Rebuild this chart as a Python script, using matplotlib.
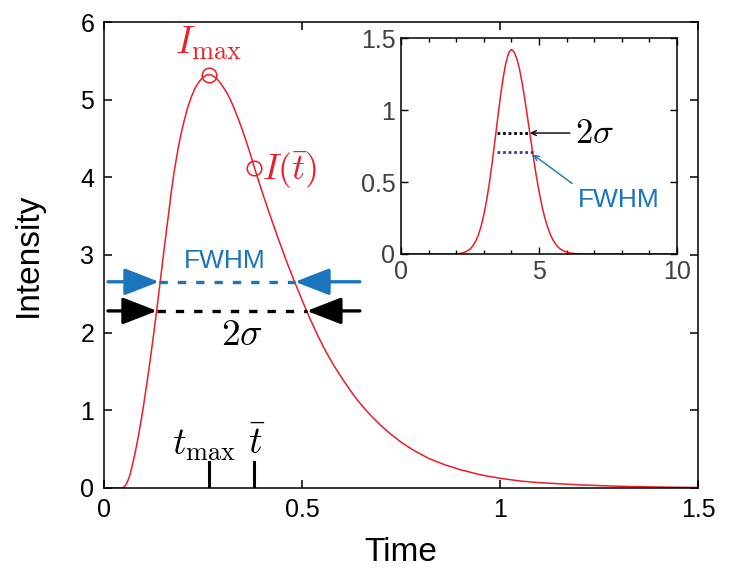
import numpy as np
import matplotlib
matplotlib.use('Agg')
import matplotlib.pyplot as plt

plt.rcParams['font.family'] = ['Liberation Sans', 'DejaVu Sans']
plt.rcParams['mathtext.fontset'] = 'cm'

## main pulse ##
t_main = [0.0, 0.045, 0.05, 0.055, 0.06, 0.065, 0.07, 0.075, 0.08, 0.085, 0.09,
          0.095, 0.10, 0.105, 0.11, 0.115, 0.12, 0.125, 0.13, 0.135, 0.14,
          0.145, 0.15, 0.155, 0.16, 0.165, 0.17, 0.175, 0.18, 0.185, 0.19,
          0.195, 0.20, 0.21, 0.22, 0.23, 0.24, 0.25, 0.26, 0.27, 0.28, 0.29,
          0.30, 0.31, 0.32, 0.33, 0.34, 0.35, 0.36, 0.37, 0.38, 0.39, 0.40,
          0.42, 0.44, 0.46, 0.48, 0.50, 0.52, 0.54, 0.56, 0.58, 0.60, 0.62,
          0.64, 0.66, 0.68, 0.70, 0.72, 0.75, 0.78, 0.82, 0.86, 0.90, 0.95,
          1.00, 1.05, 1.10, 1.20, 1.30, 1.40, 1.50]
I_main = [0.0, 0.0, 0.01, 0.04, 0.09, 0.16, 0.26, 0.37, 0.49, 0.62, 0.76,
          0.91, 1.07, 1.24, 1.41, 1.59, 1.78, 1.97, 2.17, 2.37, 2.58,
          2.79, 3.00, 3.21, 3.41, 3.61, 3.82, 4.00, 4.16, 4.31, 4.45,
          4.57, 4.68, 4.88, 5.03, 5.15, 5.23, 5.29, 5.32, 5.32, 5.29, 5.24,
          5.17, 5.09, 4.99, 4.87, 4.74, 4.60, 4.45, 4.29, 4.12, 3.96, 3.80,
          3.50, 3.21, 2.93, 2.67, 2.42, 2.18, 1.96, 1.76, 1.58, 1.42, 1.27,
          1.13, 1.01, 0.90, 0.80, 0.71, 0.59, 0.49, 0.38, 0.30, 0.235, 0.17,
          0.125, 0.09, 0.068, 0.04, 0.022, 0.012, 0.006]

t_max, I_max = 0.265, 5.32
t_bar, I_bar = 0.378, 4.12
fwhm_lvl, fwhm_l, fwhm_r = 2.655, 0.139, 0.482
sig_lvl, sig_l, sig_r = 2.28, 0.134, 0.512

## inset gaussian ##
x_ins = [0, 2.0, 2.2, 2.3, 2.4, 2.5, 2.6, 2.7, 2.8, 2.9, 3.0, 3.1, 3.2, 3.3,
         3.4, 3.5, 3.6, 3.7, 3.8, 3.9, 4.0, 4.1, 4.2, 4.3, 4.4, 4.5, 4.6, 4.7,
         4.8, 4.9, 5.0, 5.1, 5.2, 5.3, 5.4, 5.5, 5.6, 5.7, 5.8, 5.9, 6.0,
         6.2, 6.4, 6.6, 10]
y_ins = [0, 0.0, 0.0067, 0.012, 0.021, 0.034, 0.056, 0.087, 0.131, 0.192,
         0.272, 0.372, 0.493, 0.632, 0.783, 0.939, 1.090, 1.224, 1.329, 1.397,
         1.42, 1.403, 1.354, 1.277, 1.175, 1.056, 0.927, 0.795, 0.666, 0.544,
         0.435, 0.339, 0.258, 0.192, 0.140, 0.099, 0.069, 0.046, 0.031, 0.020,
         0.0125, 0.0046, 0.0016, 0.0, 0]
ins_sig_lvl, ins_fwhm_lvl = 0.84, 0.71
ins_l, ins_sig_r, ins_fwhm_r = 3.48, 4.67, 4.78

blue = '#1a75bc'
red = '#ee1c24'

fig = plt.figure(figsize=(7.29, 5.70), dpi=100)
ax = fig.add_axes([0.1427, 0.1439, 0.8148, 0.8175])

ax.plot(t_main, I_main, color=red, lw=1.1)
ax.plot([t_max], [I_max], 'o', mfc='none', mec=red, ms=10.5, mew=1.1)
ax.plot([t_bar], [I_bar], 'o', mfc='none', mec=red, ms=10.5, mew=1.1)
ax.text(t_max, 5.72, r'$I_{\max}$', color=red, fontsize=27, ha='center', va='center')
ax.text(0.398, 4.09, r'$I(\bar{t})$', color=red, fontsize=26, ha='left', va='center')

# width markers
ax.plot([fwhm_l, fwhm_r], [fwhm_lvl, fwhm_lvl], color=blue, lw=2.4, ls=(0, (2.5, 3)))
ax.plot([sig_l, sig_r], [sig_lvl, sig_lvl], color='k', lw=2.4, ls=(0, (2.5, 3)))
aprops = dict(arrowstyle='-|>,head_length=0.85,head_width=0.33', mutation_scale=25,
              lw=2.4, shrinkA=0, shrinkB=0)
for lvl, l, r, c in [(fwhm_lvl, fwhm_l, fwhm_r, blue), (sig_lvl, sig_l, sig_r, 'k')]:
    ax.annotate('', xy=(l, lvl), xytext=(0.01, lvl), arrowprops=dict(aprops, color=c))
    ax.annotate('', xy=(r, lvl), xytext=(0.646, lvl), arrowprops=dict(aprops, color=c))
ax.text(0.306, 2.92, 'FWHM', color=blue, fontsize=19, ha='center', va='center')
ax.text(0.348, 1.97, r'$2\sigma$', color='k', fontsize=27, ha='center', va='center')

# time markers
ax.plot([t_max, t_max], [0, 0.33], color='k', lw=2.2)
ax.plot([t_bar, t_bar], [0, 0.33], color='k', lw=2.2)
ax.text(0.253, 0.55, r'$t_{\max}$', fontsize=27, ha='center', va='center')
ax.text(0.384, 0.58, r'$\bar{t}$', fontsize=27, ha='center', va='center')

ax.set_xlim(0, 1.5)
ax.set_ylim(0, 6)
ax.set_xticks([0, 0.5, 1, 1.5])
ax.set_xticklabels(['0', '0.5', '1', '1.5'])
ax.set_yticks(range(7))
ax.tick_params(direction='in', length=6, width=1.1, top=True, right=True,
               labelsize=18, pad=7)
for s in ax.spines.values():
    s.set_linewidth(1.1)
ax.set_xlabel('Time', fontsize=24, labelpad=11)
ax.set_ylabel('Intensity', fontsize=24, labelpad=26)

# inset
axi = fig.add_axes([0.5501, 0.5544, 0.3786, 0.3789])
axi.plot(x_ins, y_ins, color=red, lw=1.1)
axi.plot([ins_l, ins_sig_r], [ins_sig_lvl, ins_sig_lvl], color='k', lw=2, ls=(0, (1, 1)))
axi.plot([ins_l, ins_fwhm_r], [ins_fwhm_lvl, ins_fwhm_lvl], color='#3a3aa0', lw=2, ls=(0, (1, 1)))
axi.annotate('', xy=(ins_sig_r, ins_sig_lvl), xytext=(6.12, ins_sig_lvl),
             arrowprops=dict(arrowstyle='->', mutation_scale=9, lw=1, color='k',
                             shrinkA=0, shrinkB=0))
axi.annotate('', xy=(ins_fwhm_r, ins_fwhm_lvl - 0.02), xytext=(6.2, 0.49),
             arrowprops=dict(arrowstyle='->', mutation_scale=9, lw=1, color=blue,
                             shrinkA=0, shrinkB=0))
axi.text(6.3, 0.84, r'$2\sigma$', fontsize=25, ha='left', va='center')
axi.text(6.41, 0.375, 'FWHM', color=blue, fontsize=19, ha='left', va='center')
axi.set_xlim(0, 10)
axi.set_ylim(0, 1.5)
axi.set_xticks([0, 5, 10])
axi.set_xticks(range(11), minor=True)
axi.set_yticks([0, 0.5, 1, 1.5])
axi.set_yticklabels(['0', '0.5', '1', '1.5'])
axi.tick_params(which='both', direction='in', top=True, right=True, width=1,
                labelsize=18, labelcolor='#404040', pad=4)
axi.tick_params(which='major', length=5)
axi.tick_params(which='minor', length=3)
for s in axi.spines.values():
    s.set_linewidth(1.1)

fig.savefig('out.png', dpi=100)
